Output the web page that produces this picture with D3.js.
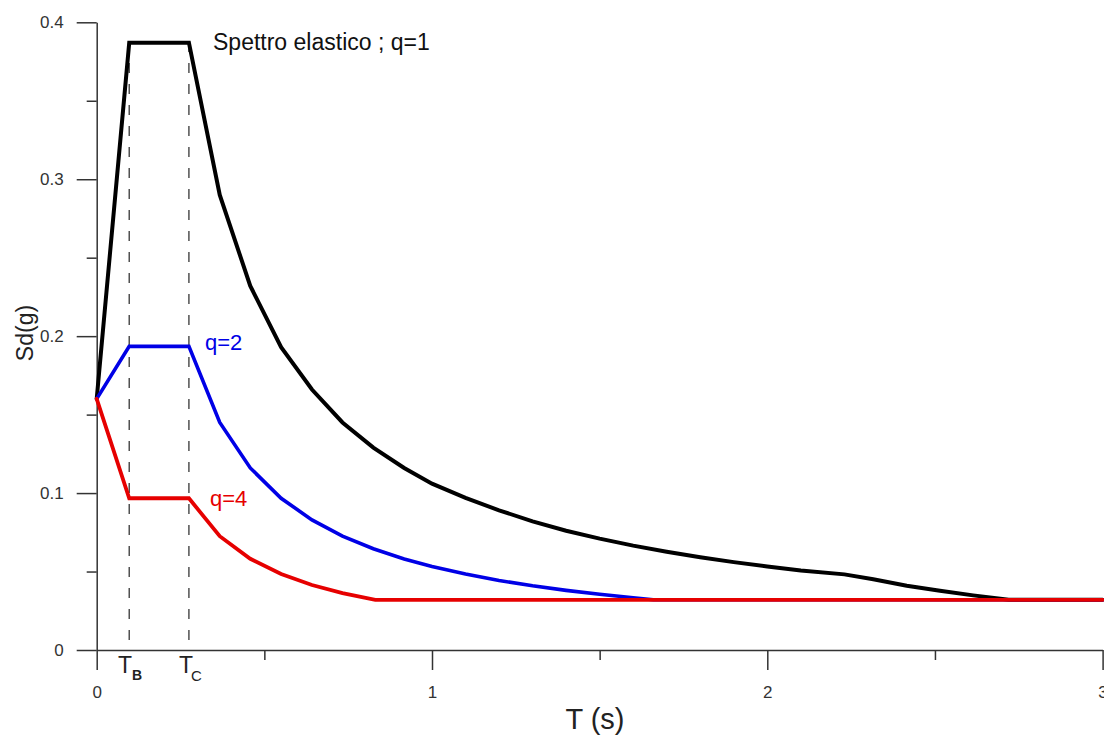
<!DOCTYPE html>
<html>
<head>
<meta charset="utf-8">
<script src="https://cdn.jsdelivr.net/npm/d3@7"></script>
<style>
  html, body { margin: 0; padding: 0; background: #fff; }
  svg { display: block; font-family: "Liberation Sans", Arial, sans-serif; }
</style>
</head>
<body>
<svg id="chart" width="1104" height="735"></svg>
<script>
// Periods (s) and design spectra Sd(g) for q = 1, 2, 4
const T_B = 0.097;
const T_C = 0.275;

const periodsQ1 = [0, 0.097, 0.275, 0.367, 0.458, 0.55, 0.642, 0.733, 0.825, 0.917, 1.0, 1.1, 1.2, 1.3, 1.4, 1.5, 1.6, 1.7, 1.8, 1.9, 2.0, 2.1, 2.23, 2.316, 2.416, 2.515, 2.614, 2.72, 3.0];
const sdQ1 =      [0.160, 0.387, 0.387, 0.290, 0.232, 0.193, 0.166, 0.145, 0.129, 0.116, 0.106, 0.097, 0.089, 0.082, 0.076, 0.071, 0.0665, 0.0626, 0.0591, 0.056, 0.0532, 0.0507, 0.0482, 0.0451, 0.0410, 0.0378, 0.0348, 0.032, 0.032];

const periodsQ2 = [0, 0.097, 0.275, 0.367, 0.458, 0.55, 0.642, 0.733, 0.825, 0.917, 1.0, 1.1, 1.2, 1.3, 1.4, 1.5, 1.6, 1.66, 3.0];
const sdQ2 =      [0.160, 0.1935, 0.1935, 0.145, 0.116, 0.0967, 0.0829, 0.0726, 0.0645, 0.058, 0.0532, 0.0484, 0.0443, 0.0409, 0.038, 0.0355, 0.0333, 0.032, 0.032];

const periodsQ4 = [0, 0.097, 0.275, 0.367, 0.458, 0.55, 0.642, 0.733, 0.831, 3.0];
const sdQ4 =      [0.160, 0.0967, 0.0967, 0.0725, 0.0581, 0.0484, 0.0414, 0.0363, 0.032, 0.032];

const xMajorTicks = [0, 1, 2, 3];
const xMinorTicks = [0.5, 1.5, 2.5];
const yMajorTicks = [0, 0.1, 0.2, 0.3, 0.4];
const yMinorTicks = [0.05, 0.15, 0.25, 0.35];

const svg = d3.select("#chart");

const x = d3.scaleLinear().domain([0, 3]).range([96.7, 1102.6]);
const y = d3.scaleLinear().domain([0, 0.4]).range([650, 22.3]);

const axisColor = "#333";

// Y axis: major ticks with labels, then short minor ticks
const yAxisG = svg.append("g").attr("transform", `translate(${x(0)},0)`);
yAxisG.call(d3.axisLeft(y).tickValues(yMajorTicks).tickSize(20).tickSizeOuter(0).tickPadding(13)
  .tickFormat(d => d === 0 ? "0" : d3.format(".1f")(d)));
svg.append("g").attr("transform", `translate(${x(0)},0)`)
  .call(d3.axisLeft(y).tickValues(yMinorTicks).tickSize(10).tickSizeOuter(0).tickFormat(""))
  .select(".domain").remove();

// X axis
const xAxisG = svg.append("g").attr("transform", `translate(0,${y(0)})`);
xAxisG.call(d3.axisBottom(x).tickValues(xMajorTicks).tickSize(20).tickSizeOuter(0).tickPadding(16)
  .tickFormat(d3.format("d")));
svg.append("g").attr("transform", `translate(0,${y(0)})`)
  .call(d3.axisBottom(x).tickValues(xMinorTicks).tickSize(10).tickSizeOuter(0).tickFormat(""))
  .select(".domain").remove();

svg.selectAll(".domain, .tick line").attr("stroke", axisColor).attr("stroke-width", 1.5);
svg.selectAll(".tick text").attr("fill", "#333").style("font-size", "17px")
  .style("font-family", "'Liberation Sans', Arial, sans-serif");

// Dashed markers at the corner periods
[T_B, T_C].forEach(t => {
  svg.append("line")
    .attr("x1", x(t)).attr("x2", x(t))
    .attr("y1", y(0) - 10).attr("y2", y(0.387))
    .attr("stroke", "#444").attr("stroke-width", 1.4)
    .attr("stroke-dasharray", "10,11");
});

// Spectra
const line = d3.line().x(d => x(d[0])).y(d => y(d[1]));
const spectra = [
  { t: periodsQ1, v: sdQ1, color: "#000000", width: 4 },
  { t: periodsQ2, v: sdQ2, color: "#0000e6", width: 3.6 },
  { t: periodsQ4, v: sdQ4, color: "#e60000", width: 3.8 }
];
spectra.forEach(s => {
  svg.append("path")
    .datum(d3.zip(s.t, s.v))
    .attr("d", line)
    .attr("fill", "none")
    .attr("stroke", s.color)
    .attr("stroke-width", s.width)
    .attr("stroke-linejoin", "miter")
    .attr("stroke-linecap", "round");
});

// Curve labels
svg.append("text").attr("x", 213).attr("y", 50)
  .attr("fill", "#111").style("font-size", "23px")
  .text("Spettro elastico ; q=1");
svg.append("text").attr("x", 205).attr("y", 350)
  .attr("fill", "#0000e6").style("font-size", "22px").text("q=2");
svg.append("text").attr("x", 210).attr("y", 506)
  .attr("fill", "#e60000").style("font-size", "22px").text("q=4");

// Corner period labels
const tb = svg.append("text").attr("x", 118).attr("y", 673).attr("fill", "#222").style("font-size", "23px");
tb.append("tspan").text("T");
tb.append("tspan").attr("dy", 7).style("font-size", "14px").style("font-weight", "bold").text("B");
const tc = svg.append("text").attr("x", 179).attr("y", 673).attr("fill", "#222").style("font-size", "23px");
tc.append("tspan").text("T");
tc.append("tspan").attr("dy", 8).attr("dx", -2).style("font-size", "15px").text("C");

// Axis titles
svg.append("text").attr("x", 595).attr("y", 729).attr("text-anchor", "middle")
  .attr("fill", "#222").style("font-size", "29px").text("T (s)");
svg.append("text").attr("transform", "translate(33,333) rotate(-90)").attr("text-anchor", "middle")
  .attr("fill", "#222").style("font-size", "23px").text("Sd(g)");
</script>
</body>
</html>
